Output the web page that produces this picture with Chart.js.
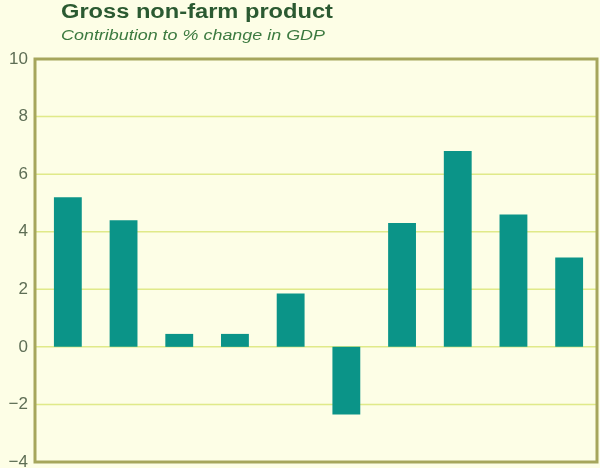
<!DOCTYPE html>
<html>
<head>
<meta charset="utf-8">
<script src="https://cdn.jsdelivr.net/npm/chart.js@4.4.0/dist/chart.umd.min.js"></script>
<style>
	body { margin: 0; background: #fdfee6; }
	#wrap { position: relative; width: 600px; height: 468px; background: #fdfee6; }
	#title { position: absolute; left: 61px; top: 1px; font: bold 20px "Liberation Sans", Arial, sans-serif; color: #2b5a31; line-height: 20px; white-space: nowrap; transform-origin: 0 0; }
	#subtitle { position: absolute; left: 61px; top: 28px; font: italic 14.5px "Liberation Sans", Arial, sans-serif; color: #3c7a40; line-height: 15px; white-space: nowrap; transform-origin: 0 0; }
	canvas { position: absolute; left: 0; top: 0; }
</style>
</head>
<body>
<div id="wrap">
	<canvas id="chart1" width="600" height="468"></canvas>
	<div id="title">Gross non-farm product</div>
	<div id="subtitle">Contribution to % change in GDP</div>
</div>
<script>
var categories = ['1', '2', '3', '4', '5', '6', '7', '8', '9', '10'];
var values = [5.2, 4.4, 0.45, 0.45, 1.85, -2.35, 4.3, 6.8, 4.6, 3.1];
var yTicks = [-4, -2, 0, 2, 4, 6, 8, 10];

// stretch the heading text to the width it has in the picture
function fitWidth(id, target){
	var el = document.getElementById(id);
	var w = el.getBoundingClientRect().width;
	el.style.transform = 'scaleX(' + (target / w) + ')';
}
fitWidth('title', 272);
fitWidth('subtitle', 264);

var frame = {
	id: 'frame',
	beforeDatasetsDraw: function(chart){
		var ctx = chart.ctx;
		var a = chart.chartArea;
		var y = chart.scales.y;
		var left = a.left - 5;
		ctx.save();
		ctx.strokeStyle = 'rgba(218,230,120,0.85)';
		ctx.lineWidth = 1.5;
		for(var i = 0; i < yTicks.length; i++){
			var py = y.getPixelForValue(yTicks[i]);
			ctx.beginPath();
			ctx.moveTo(left, py);
			ctx.lineTo(a.right, py);
			ctx.stroke();
		}
		ctx.restore();
	},
	afterDatasetsDraw: function(chart){
		var ctx = chart.ctx;
		var a = chart.chartArea;
		ctx.save();
		ctx.strokeStyle = '#a6a65c';
		ctx.lineWidth = 3;
		ctx.strokeRect(a.left - 5, a.top, a.right - a.left + 5, a.bottom - a.top);
		ctx.restore();
	}
};

var ctx = document.getElementById('chart1').getContext('2d');
var myChart = new Chart(ctx, {
	type: 'bar',
	data: {
		labels: categories,
		datasets: [{
			data: values,
			backgroundColor: '#0b9488',
			barPercentage: 0.5,
			categoryPercentage: 1.0
		}]
	},
	options: {
		responsive: false,
		animation: false,
		layout: { padding: { top: 59, right: 3, bottom: 6, left: 0 } },
		plugins: {
			legend: { display: false },
			tooltip: { enabled: false }
		},
		scales: {
			x: { display: false },
			y: {
				min: -4,
				max: 10,
				afterBuildTicks: function(scale){
					scale.ticks = yTicks.map(function(v){ return { value: v }; });
				},
				afterFit: function(scale){
					scale.width = 40;
					scale.paddingTop = 0;
					scale.paddingBottom = 0;
				},
				grid: { display: false, drawTicks: false },
				border: { display: false },
				ticks: {
					padding: 12,
					color: '#5e6e55',
					font: { family: 'Liberation Sans', size: 17 },
					callback: function(v){
						return v < 0 ? '\u2212' + Math.abs(v) : '' + v;
					}
				}
			}
		}
	},
	plugins: [frame]
});
</script>
</body>
</html>
